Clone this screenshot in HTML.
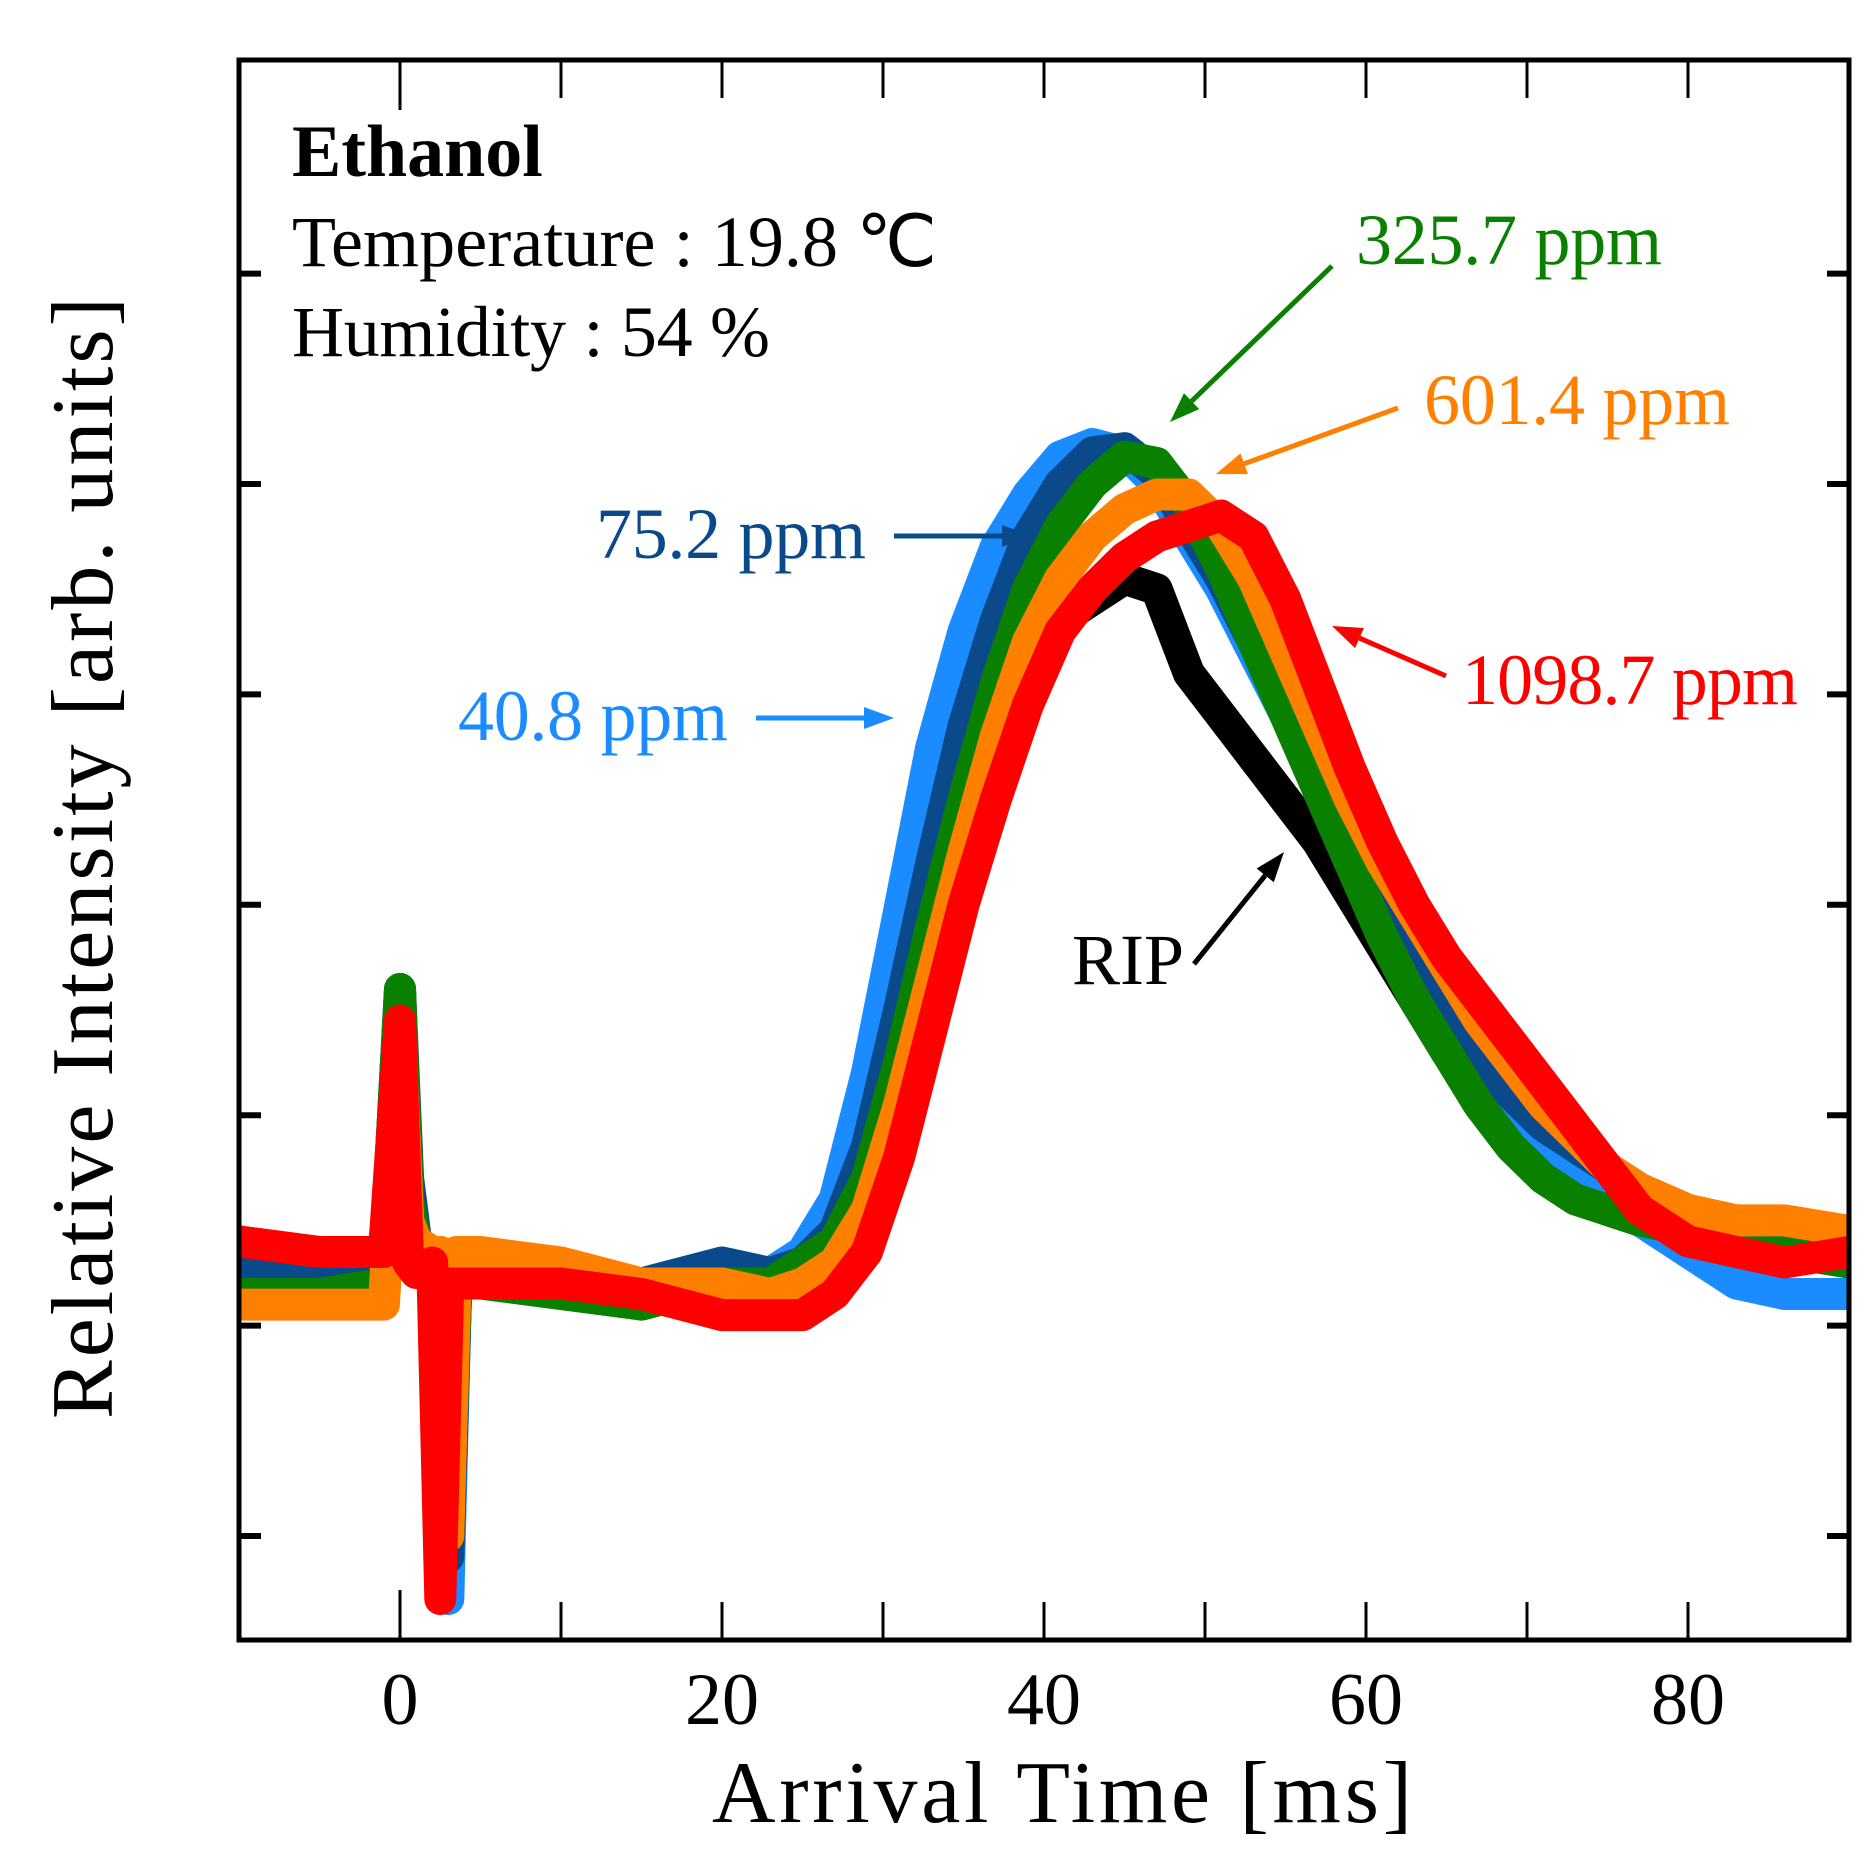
<!DOCTYPE html>
<html><head><meta charset="utf-8"><style>
html,body{margin:0;padding:0;background:#fff;}
svg{display:block;font-family:"Liberation Serif",serif;}
</style></head><body>
<svg id="chart" width="1871" height="1857" viewBox="0 0 1871 1857">
<g id="series"></g>
<g id="axes"></g>
<g font-size="72">
<text x="292" y="176" font-weight="bold" font-size="74">Ethanol</text>
<text x="292" y="266" textLength="645">Temperature : 19.8 ℃</text>
<text x="292" y="356" textLength="478">Humidity : 54 %</text>
<text x="1356" y="264" textLength="306" fill="#0a8000">325.7 ppm</text>
<text x="1424" y="424" textLength="306" fill="#ff8000">601.4 ppm</text>
<text x="596" y="558" textLength="270" fill="#0a4a8a">75.2 ppm</text>
<text x="458" y="740" textLength="270" fill="#1a8cff">40.8 ppm</text>
<text x="1462" y="704" textLength="336" fill="#ff0000">1098.7 ppm</text>
<text x="1072" y="984" textLength="112" fill="#000">RIP</text>
</g>
<g id="arrows"></g>
<text x="1062" y="1822" text-anchor="middle" font-size="88" textLength="700">Arrival Time [ms]</text>
<text transform="translate(112,858) rotate(-90)" text-anchor="middle" font-size="88" textLength="1122">Relative Intensity [arb. units]</text>
</svg>
<script>
const times = [-10,-5,-1,0,0.5,1,2,2.5,3,3.5,5,10,15,20,23,25,27,29,31,33,35,37,39,41,43,45,47,49,51,53,55,57,59,61,63,65,67,69,71,73,75,77,80,83,86,90];
const ripValues = [1.2,1.2,1.2,2.5,1.6,1.35,1.3,1.3,0.2,1.2,1.2,1.2,1.15,1.15, 1.2,1.25,1.35,1.7,2.25,2.85,3.35,3.75,4.1,4.35,4.45,4.55,4.5,4.1,3.9,3.7,3.5,3.3,3.05,2.8,2.55,2.3,2.1,1.9,1.75,1.65,1.55,1.5,1.45,1.4,1.35,1.35];
const ppm40Values = [1.3,1.25,1.2,2.6,1.6,1.4,1.3,1.3,-0.3,1.25,1.25,1.25,1.2,1.25, 1.25,1.35,1.6,2.2,2.97,3.75,4.3,4.7,4.95,5.13,5.19,5.15,5.0,4.75,4.5,4.2,3.9,3.55,3.2,2.9,2.6,2.35,2.15,2.0,1.88,1.75,1.6,1.5,1.35,1.2,1.15,1.15];
const ppm75Values = [1.3,1.25,1.2,2.6,1.7,1.4,1.3,1.3,-0.1,1.2,1.2,1.25,1.2,1.3, 1.25,1.3,1.45,1.85,2.5,3.2,3.85,4.35,4.75,5.0,5.15,5.17,5.05,4.8,4.55,4.25,3.95,3.6,3.3,3.0,2.75,2.5,2.3,2.1,1.95,1.85,1.75,1.65,1.55,1.45,1.35,1.3];
const ppm325Values = [1.15,1.15,1.2,2.6,1.6,1.4,1.35,1.35,0.1,1.2,1.2,1.15,1.1,1.2, 1.2,1.3,1.4,1.7,2.25,2.9,3.5,4.05,4.5,4.8,5.0,5.13,5.1,4.9,4.6,4.25,3.9,3.55,3.2,2.85,2.55,2.3,2.05,1.85,1.7,1.6,1.55,1.5,1.45,1.4,1.35,1.3];
const ppm601Values = [1.1,1.1,1.1,2.4,1.5,1.4,1.35,1.35,0.0,1.35,1.35,1.3,1.2,1.2, 1.15,1.2,1.3,1.55,2.05,2.65,3.25,3.8,4.25,4.55,4.75,4.88,4.95,4.95,4.8,4.55,4.2,3.85,3.5,3.2,2.95,2.7,2.45,2.25,2.05,1.9,1.75,1.65,1.55,1.5,1.5,1.45];
const ppm1098Values = [1.4,1.35,1.35,2.45,1.3,1.25,1.3,-0.3,1.2,1.2,1.2,1.2,1.15,1.05, 1.05,1.05,1.15,1.35,1.8,2.4,3.0,3.5,3.95,4.3,4.5,4.65,4.75,4.8,4.85,4.75,4.45,4.05,3.65,3.3,3.0,2.75,2.55,2.35,2.15,1.95,1.75,1.55,1.4,1.35,1.3,1.35];
const xTickLabels = [0,20,40,60,80];
const xMinorTicks = [-10,0,10,20,30,40,50,60,70,80,90];
const yTicks = [0,1,2,3,4,5,6];

const X0=239, X1=1849, Y0=60, Y1=1640;
const sx = t => 400 + (t)*16.1;
const sy = v => 1536 - v*210.4;
const NS='http://www.w3.org/2000/svg';
function mk(tag, attrs, parent){const e=document.createElementNS(NS,tag);for(const k in attrs)e.setAttribute(k,attrs[k]);parent.appendChild(e);return e;}

const sg=document.getElementById('series');
const seriesList=[
 ['rip-series',ripValues,'#000000'],
 ['series-40-8-ppm',ppm40Values,'#1a8cff'],
 ['series-75-2-ppm',ppm75Values,'#0a4a8a'],
 ['series-325-7-ppm',ppm325Values,'#0a8000'],
 ['series-601-4-ppm',ppm601Values,'#ff8000'],
 ['series-1098-7-ppm',ppm1098Values,'#ff0000']];
seriesList.forEach(s=>{
  const pts=times.map((t,i)=>sx(t).toFixed(1)+','+sy(s[1][i]).toFixed(1)).join(' ');
  const pl=mk('polyline',{points:pts,fill:'none',stroke:s[2],'stroke-width':32,'stroke-linejoin':'round','stroke-linecap':'butt'},sg);
  
  
});

const ag=document.getElementById('axes');
const frame=mk('rect',{x:X0,y:Y0,width:X1-X0,height:Y1-Y0,fill:'none',stroke:'#000','stroke-width':5},ag);


xMinorTicks.forEach(t=>{
  const len = t===0?50:38;
  const b=mk('line',{x1:sx(t),x2:sx(t),y1:Y1,y2:Y1-len,stroke:'#000','stroke-width':3},ag);
  
  
  const tp=mk('line',{x1:sx(t),x2:sx(t),y1:Y0,y2:Y0+(t===0?50:38),stroke:'#000','stroke-width':3},ag);
  
  
});
yTicks.forEach(v=>{
  const l=mk('line',{x1:X0,x2:X0+22,y1:sy(v),y2:sy(v),stroke:'#000','stroke-width':6},ag);
  
  
  const r=mk('line',{x1:X1,x2:X1-22,y1:sy(v),y2:sy(v),stroke:'#000','stroke-width':6},ag);
  
  
});
xTickLabels.forEach(t=>{
  const tx=mk('text',{x:sx(t),y:1724,'text-anchor':'middle','font-size':74},ag);
  tx.textContent=t;
  
  
});

const arg=document.getElementById('arrows');
const arrows=[
 ['arrow-325-ppm',1332,266,1170,422,'#0a8000'],
 ['arrow-601-ppm',1398,408,1216,474,'#ff8000'],
 ['arrow-75-ppm',894,536,1032,536,'#0a4a8a'],
 ['arrow-40-ppm',756,718,894,718,'#1a8cff'],
 ['arrow-1098-ppm',1446,676,1332,626,'#ff0000'],
 ['arrow-rip',1194,964,1284,852,'#000000']];
arrows.forEach(a=>{
  const [n,x1,y1,x2,y2,c]=a;
  const g=mk('g',{},arg);
  
  
  const ang=Math.atan2(y2-y1,x2-x1), L=30, W=11;
  const bx=x2-L*Math.cos(ang), by=y2-L*Math.sin(ang);
  mk('line',{x1:x1,y1:y1,x2:bx,y2:by,stroke:c,'stroke-width':5},g);
  const px=-Math.sin(ang)*W, py=Math.cos(ang)*W;
  mk('polygon',{points:`${x2},${y2} ${bx+px},${by+py} ${bx-px},${by-py}`,fill:c},g);
});
</script>
</body></html>
